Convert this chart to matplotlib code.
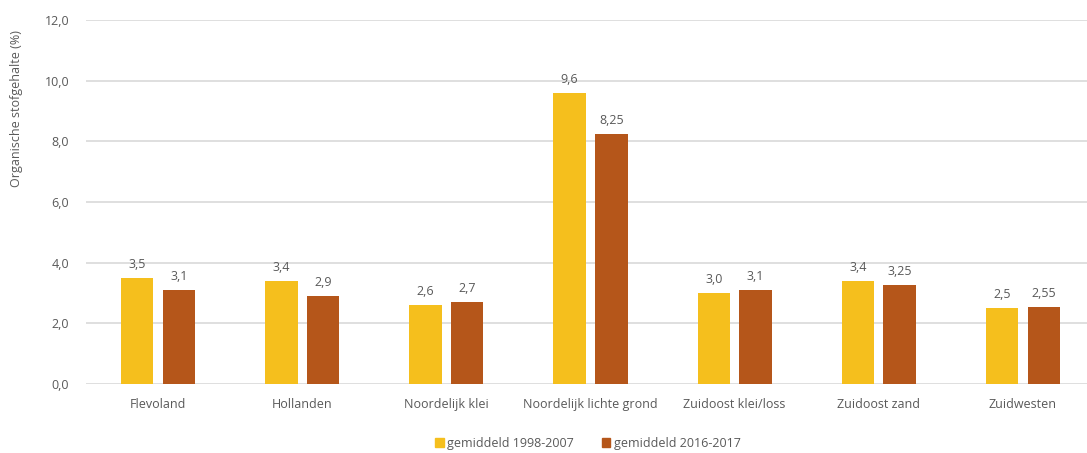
import matplotlib
matplotlib.use("Agg")
import matplotlib.pyplot as plt
import numpy as np
from matplotlib.patches import Patch

categories = ["Flevoland", "Hollanden", "Noordelijk klei", "Noordelijk lichte grond",
              "Zuidoost klei/loss", "Zuidoost zand", "Zuidwesten"]
series_names = ["gemiddeld 1998-2007", "gemiddeld 2016-2017"]
values_1998_2007 = [3.5, 3.4, 2.6, 9.6, 3.0, 3.4, 2.5]
values_2016_2017 = [3.1, 2.9, 2.7, 8.25, 3.1, 3.25, 2.55]
labels_1998_2007 = ["3,5", "3,4", "2,6", "9,6", "3,0", "3,4", "2,5"]
labels_2016_2017 = ["3,1", "2,9", "2,7", "8,25", "3,1", "3,25", "2,55"]
yticks = [0, 2, 4, 6, 8, 10, 12]
ytick_labels = ["0,0", "2,0", "4,0", "6,0", "8,0", "10,0", "12,0"]

YELLOW = "#F5BF1D"
BROWN = "#B5561A"
TEXT = "#595959"
GRID = "#D9D9D9"

plt.rcParams['font.family'] = ['Open Sans', 'DejaVu Sans']

W, H = 1087, 453
fig = plt.figure(figsize=(W / 100, H / 100), dpi=100)
ax_left, ax_right, ax_top, ax_bottom = 86, 1095, 20, 384
ax = fig.add_axes([ax_left / W, 1 - ax_bottom / H, (ax_right - ax_left) / W, (ax_bottom - ax_top) / H])

x = np.arange(len(categories))
bw = 0.225
off = 0.145
b1 = ax.bar(x - off, values_1998_2007, bw, color=YELLOW, zorder=3)
b2 = ax.bar(x + off, values_2016_2017, bw, color=BROWN, zorder=3)

for bars, labs in ((b1, labels_1998_2007), (b2, labels_2016_2017)):
    for r, lab in zip(bars, labs):
        ax.annotate(lab, (r.get_x() + r.get_width() / 2, r.get_height()),
                    xytext=(0, 5), textcoords="offset points", ha="center", va="bottom",
                    fontsize=9, color=TEXT)

ax.set_xlim(-0.5, len(categories) - 0.5)
ax.set_ylim(0, 12)
ax.set_yticks(yticks)
ax.set_yticklabels(ytick_labels)
ax.set_xticks(x)
ax.set_xticklabels(categories)
ax.tick_params(axis="both", length=0, colors=TEXT, labelsize=9)
ax.tick_params(axis="x", pad=10)
ax.tick_params(axis="y", pad=12)
ax.yaxis.grid(True, color=GRID, linewidth=1.2, zorder=0)
ax.set_axisbelow(True)
for s in ax.spines.values():
    s.set_visible(False)

fig.text(17 / W, 1 - 109 / H, "Organische stofgehalte (%)", rotation=90, ha="center", va="center",
         fontsize=9, color=TEXT)

handles = [Patch(color=YELLOW), Patch(color=BROWN)]
fig.legend(handles, series_names, loc="center", bbox_to_anchor=(588 / W, 1 - 443 / H), ncol=2,
           frameon=False, fontsize=9, labelcolor=TEXT, handlelength=0.7, handleheight=0.7,
           handletextpad=0.3, columnspacing=2.2)

fig.savefig("out.png", dpi=100, facecolor="white")
